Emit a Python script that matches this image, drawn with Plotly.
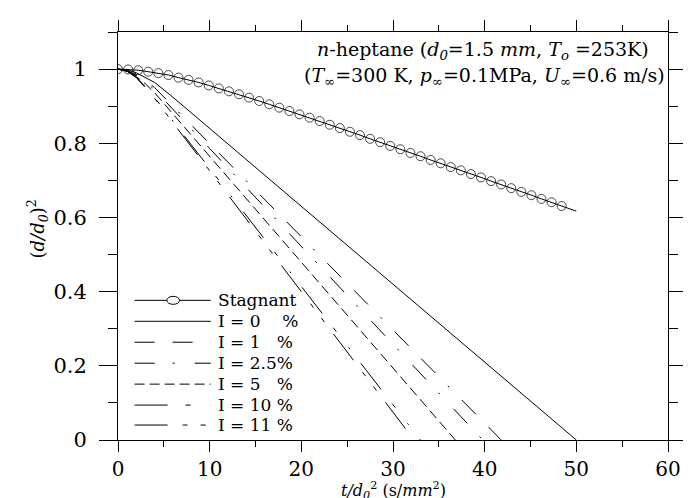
import plotly.graph_objects as go

# ---------------- data ----------------
t_stag = [0.0, 1.1, 2.2, 3.3, 4.4, 5.5, 6.6, 7.7, 8.8, 9.9, 11.0, 12.1, 13.2, 14.3, 15.4,
          16.5, 17.6, 18.7, 19.8, 20.9, 22.0, 23.1, 24.2, 25.3, 26.4, 27.5, 28.6, 29.7,
          30.8, 31.9, 33.0, 34.1, 35.2, 36.3, 37.4, 38.5, 39.6, 40.7, 41.8, 42.9, 44.0,
          45.1, 46.2, 47.3, 48.4, 50.0]
v_stag = [1.000, 0.999, 0.997, 0.993, 0.989, 0.984, 0.977, 0.971, 0.964, 0.956, 0.948,
          0.940, 0.932, 0.923, 0.914, 0.905, 0.896, 0.887, 0.878, 0.869, 0.860, 0.850,
          0.841, 0.831, 0.822, 0.812, 0.803, 0.793, 0.784, 0.774, 0.765, 0.755, 0.746,
          0.736, 0.727, 0.717, 0.708, 0.698, 0.689, 0.679, 0.669, 0.660, 0.650, 0.641,
          0.631, 0.617]

t_i0 = [0, 1, 2, 3, 4, 6, 10, 20, 30, 40, 50]
v_i0 = [1, 0.998, 0.99, 0.978, 0.964, 0.924, 0.84, 0.63, 0.42, 0.21, 0.0]

t_i1 = [0, 1, 2, 3, 4, 6, 10, 20, 30, 41.8]
v_i1 = [1, 0.996, 0.985, 0.97, 0.95, 0.899, 0.799, 0.548, 0.297, 0.0]

t_i25 = [0, 1, 2, 3, 4, 6, 10, 20, 30, 39.8]
v_i25 = [1, 0.995, 0.983, 0.966, 0.944, 0.892, 0.786, 0.522, 0.258, 0.0]

t_i5 = [0, 1, 2, 3, 4, 6, 10, 20, 30, 36.8]
v_i5 = [1, 0.995, 0.98, 0.96, 0.936, 0.879, 0.765, 0.479, 0.194, 0.0]

t_i10 = [0, 1, 2, 3, 4, 6, 10, 20, 30, 33.0]
v_i10 = [1, 0.994, 0.978, 0.952, 0.923, 0.859, 0.732, 0.414, 0.095, 0.0]

t_i11 = [0, 1, 2, 3, 4, 6, 10, 20, 30, 32.3]
v_i11 = [1, 0.994, 0.977, 0.95, 0.921, 0.855, 0.726, 0.40, 0.073, 0.0]

names = ["Stagnant", "I = 0\u00a0\u00a0\u00a0\u00a0%", "I = 1\u00a0\u00a0\u00a0%",
         "I = 2.5%", "I = 5\u00a0\u00a0\u00a0%", "I = 10 %", "I = 11 %"]

x_ticks = [0, 10, 20, 30, 40, 50, 60]
y_ticks = [0, 0.2, 0.4, 0.6, 0.8, 1]
y_tick_text = ["0", "0.2", "0.4", "0.6", "0.8", "1"]

title_line1 = "<i>n</i>-heptane (<i>d<sub>0</sub></i>=1.5 <i>mm</i>, <i>T<sub>o</sub></i> =253K)"
title_line2 = ("(<i>T</i><sub>\u221e</sub>=300 K, <i>p</i><sub>\u221e</sub>=0.1MPa, "
               "<i>U</i><sub>\u221e</sub>=0.6 m/s)")
x_title = "<i>t/d<sub>0</sub></i><sup>2</sup> (s/<i>mm</i><sup>2</sup>)"
y_title = "(<i>d/d<sub>0</sub></i>)<sup>2</sup>"

# ---------------- styles ----------------
FONT = "DejaVu Serif, Liberation Serif, serif"
dashes = [
    "solid",
    "solid",
    "20px,18px,20px,18px,2px,18px",
    "20px,18px,2px,20px",
    "10px,5px",
    "33px,18px,5px,20px,2px,18px",
    "33px,15px,5px,13px,5px,15px",
]

series = [(t_stag, v_stag), (t_i0, v_i0), (t_i1, v_i1), (t_i25, v_i25),
          (t_i5, v_i5), (t_i10, v_i10), (t_i11, v_i11)]

fig = go.Figure()
for i, ((tx, vy), nm, ds) in enumerate(zip(series, names, dashes)):
    if i == 0:
        sizes = [9] * (len(tx) - 1) + [0]
        fig.add_trace(go.Scatter(
            x=tx, y=vy, name=nm, mode="lines+markers",
            line=dict(color="black", width=1),
            marker=dict(symbol="circle-open", size=sizes, color="black",
                        line=dict(width=1, color="black")),
            showlegend=False))
    else:
        fig.add_trace(go.Scatter(
            x=tx, y=vy, name=nm, mode="lines",
            line=dict(color="black", width=1, dash=ds),
            showlegend=False))

# ---------------- manual legend (long line samples) ----------------
L, R = 110, 673
T, B = 23, 432
W, H = R - L, B - T


def px(xp):
    return (xp - L) / W


def py(yp):
    return (B - yp) / H


row_y = [292, 313, 334, 355, 376, 397, 417]
shapes = []
annotations = []
for nm, ds, yy in zip(names, dashes, row_y):
    shapes.append(dict(type="line", xref="paper", yref="paper",
                       x0=px(127), x1=px(205), y0=py(yy), y1=py(yy),
                       line=dict(color="black", width=1, dash=ds)))
    annotations.append(dict(xref="paper", yref="paper", x=px(210), y=py(yy),
                            xanchor="left", yanchor="middle", showarrow=False,
                            text=nm, font=dict(family=FONT, size=17, color="black")))
# circle symbol for stagnant entry
shapes.append(dict(type="circle", xref="paper", yref="paper",
                   x0=px(160), x1=px(173), y0=py(row_y[0] + 4), y1=py(row_y[0] - 4),
                   line=dict(color="black", width=1), fillcolor="white"))

# condition text (two lines, right part of the plot)
annotations.append(dict(
    xref="paper", yref="paper", x=px(672), y=py(68), xanchor="right", yanchor="middle",
    showarrow=False, text=title_line2,
    font=dict(family=FONT, size=19, color="black")))
annotations.append(dict(
    xref="paper", yref="paper", x=px(312), y=py(42), xanchor="left", yanchor="middle",
    showarrow=False, text=title_line1,
    font=dict(family=FONT, size=19, color="black")))

# axis titles
annotations.append(dict(
    xref="paper", yref="paper", x=0.5, y=py(483), xanchor="center", yanchor="middle",
    showarrow=False, text=x_title, font=dict(family=FONT, size=16, color="black")))
annotations.append(dict(
    xref="paper", yref="paper", x=px(27), y=py(220), xanchor="center", yanchor="middle",
    showarrow=False, text=y_title, textangle=-90,
    font=dict(family=FONT, size=18, color="black")))

axis_common = dict(showline=True, linecolor="black", linewidth=1, mirror="ticks",
                   ticks="outside", tickcolor="black", showgrid=False, zeroline=False)

fig.update_layout(
    width=691, height=498,
    margin=dict(l=L, r=691 - R, t=T, b=498 - B),
    paper_bgcolor="white", plot_bgcolor="white",
    shapes=shapes, annotations=annotations,
    xaxis=dict(range=[0, 60], tickvals=x_ticks, ticklen=11, tickwidth=1,
               ticklabelstandoff=0,
               tickfont=dict(family=FONT, size=20, color="black"),
               minor=dict(dtick=5, ticklen=6, ticks="outside", tickcolor="black"),
               **axis_common),
    yaxis=dict(range=[0, 1.1], tickvals=y_ticks, ticktext=y_tick_text, ticklen=18,
               tickwidth=1, ticklabelstandoff=8,
               tickfont=dict(family=FONT, size=21, color="black"),
               minor=dict(dtick=0.1, ticklen=9, ticks="outside", tickcolor="black"),
               **axis_common),
    showlegend=False,
)

fig.write_html("out.html")
